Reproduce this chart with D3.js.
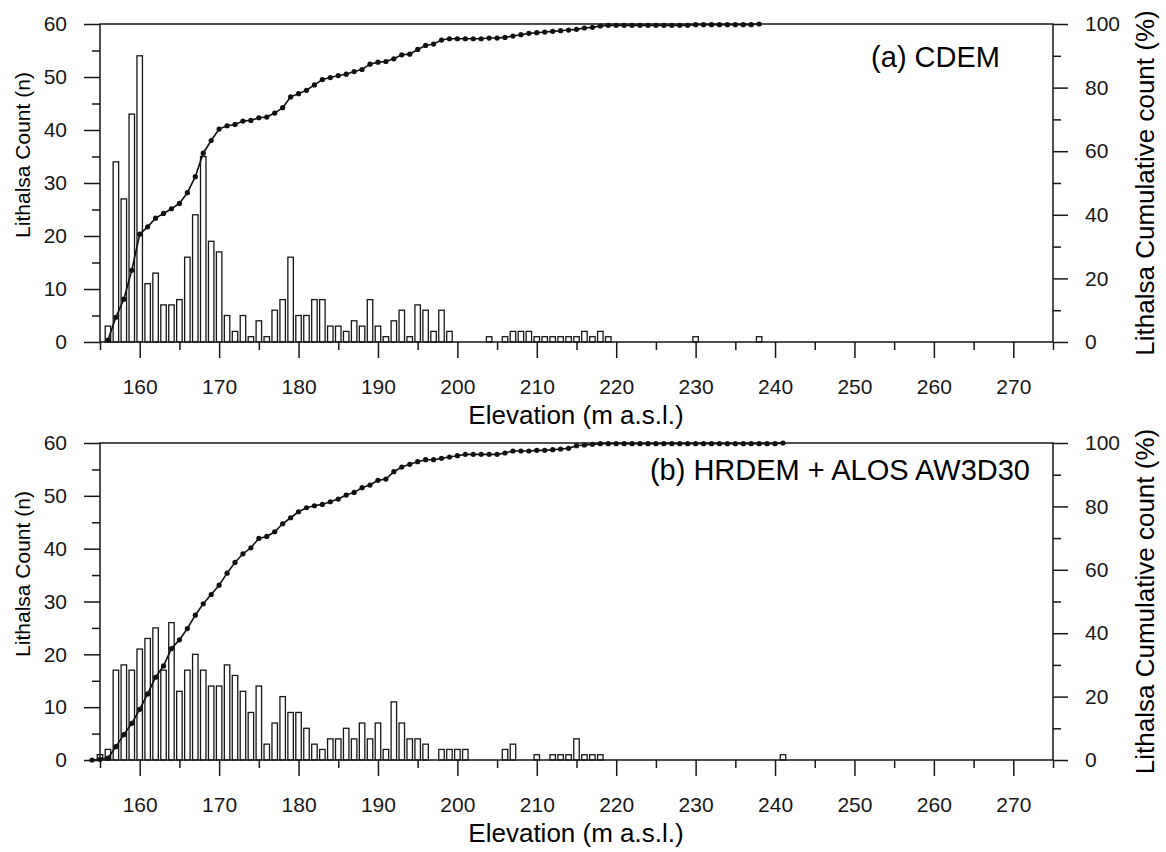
<!DOCTYPE html>
<html>
<head>
<meta charset="utf-8">
<title>Lithalsa elevation histograms</title>
<script src="https://cdn.jsdelivr.net/npm/d3@7"></script>
<style>
  html, body { margin: 0; padding: 0; background: #fff; }
  svg { display: block; font-family: "Liberation Sans", Arial, sans-serif; }
  .tick line, .frame { stroke: #161616; stroke-width: 1.5; }
  .tick text { fill: #161616; font-size: 21px; }
  .bar { fill: #fff; stroke: #161616; stroke-width: 1.3; }
  .cum { fill: none; stroke: #111; stroke-width: 1.6; }
  .dot { fill: #111; }
</style>
</head>
<body>
<svg width="1166" height="852"></svg>
<script>
(function() {
  'use strict';

  // Counts per 1 m elevation bin (first value = start elevation)
  var cdemStart = 156;
  var cdemCounts = [
    3, 34, 27, 43, 54, 11, 13, 7, 7, 8,        // 156-165
    16, 24, 35, 19, 17, 5, 2, 5, 1, 4,         // 166-175
    1, 6, 8, 16, 5, 5, 8, 8, 3, 3,             // 176-185
    2, 4, 3, 8, 3, 1, 4, 6, 1, 7,              // 186-195
    6, 2, 6, 2, 0, 0, 0, 0, 1, 0,              // 196-205
    1, 2, 2, 2, 1, 1, 1, 1, 1, 1,              // 206-215
    2, 1, 2, 1,                                // 216-219
    0, 0, 0, 0, 0, 0, 0, 0, 0, 0,              // 220-229
    1, 0, 0, 0, 0, 0, 0, 0, 1                  // 230-238
  ];

  var hrdemStart = 154;
  var hrdemCounts = [
    0, 1, 2, 17, 18, 17, 21, 23, 25, 17,       // 154-163
    26, 13, 17, 20, 17, 14, 14, 18, 16, 13,    // 164-173
    9, 14, 3, 7, 12, 9, 9, 6, 3, 2,            // 174-183
    4, 4, 6, 4, 7, 4, 7, 2, 11, 7,             // 184-193
    4, 4, 3, 0, 2, 2, 2, 2, 0, 0,              // 194-203
    0, 0, 2, 3, 0, 0, 1, 0, 1, 1,              // 204-213
    1, 4, 1, 1, 1,                             // 214-218
    0, 0, 0, 0, 0, 0, 0, 0, 0, 0, 0,           // 219-229
    0, 0, 0, 0, 0, 0, 0, 0, 0, 0, 0,           // 230-240
    1                                          // 241
  ];

  // Tick values
  var elevMajor = [160, 170, 180, 190, 200, 210, 220, 230, 240, 250, 260, 270];
  var elevMinor = [155, 165, 175, 185, 195, 205, 215, 225, 235, 245, 255, 265, 275];
  var countMajor = [0, 10, 20, 30, 40, 50, 60];
  var countMinor = [5, 15, 25, 35, 45, 55];
  var pctMajor = [0, 20, 40, 60, 80, 100];
  var pctMinor = [10, 30, 50, 70, 90];

  var panels = [
    {label: "(a) CDEM", start: cdemStart, counts: cdemCounts, top: 24, bottom: 342,
     labelX: 1000, labelY: 67, leftTitleY: 155},
    {label: "(b) HRDEM + ALOS AW3D30", start: hrdemStart, counts: hrdemCounts, top: 443, bottom: 760,
     labelX: 1030, labelY: 480, leftTitleY: 574}
  ];

  var svg = d3.select("svg"),
  left = 100, right = 1053;

  var x = d3.scaleLinear().domain([155, 275]).range([left, right]);
  var unit = x(156) - x(155);
  var barW = unit * 0.69;

  panels.forEach(drawPanel);

  function drawPanel(p) {
    var yCount = d3.scaleLinear().domain([0, 60]).range([p.bottom, p.top]);
    var yPct = d3.scaleLinear().domain([0, 100]).range([p.bottom, p.top]);
    var g = svg.append("g");

    //rows: elevation, count and cumulative percent
    var total = d3.sum(p.counts);
    var cum = d3.cumsum(p.counts);
    var rows = p.counts.map(function(c, i) {
      return {elev: p.start + i, count: c, pct: cum[i] / total * 100};
    });

    // bars (empty bins are not drawn)
    g.selectAll(".bar")
    .data(rows.filter(function(d) { return d.count > 0; }))
    .enter().append("rect")
    .attr("class", "bar")
    .attr("x", function(d) { return x(d.elev) - barW / 2; })
    .attr("y", function(d) { return yCount(d.count); })
    .attr("width", barW)
    .attr("height", function(d) { return yCount(0) - yCount(d.count); });

    // axes
    g.append("g")
    .attr("transform", "translate(" + left + ",0)")
    .call(d3.axisLeft(yCount).tickValues(countMajor).tickSize(16).tickPadding(17).tickSizeOuter(0))
    .call(cleanAxis);
    g.append("g")
    .attr("transform", "translate(" + left + ",0)")
    .call(d3.axisLeft(yCount).tickValues(countMinor).tickSize(8).tickFormat("").tickSizeOuter(0))
    .call(cleanAxis);

    g.append("g")
    .attr("transform", "translate(" + right + ",0)")
    .call(d3.axisRight(yPct).tickValues(pctMajor).tickSize(15).tickPadding(17).tickSizeOuter(0))
    .call(cleanAxis);
    g.append("g")
    .attr("transform", "translate(" + right + ",0)")
    .call(d3.axisRight(yPct).tickValues(pctMinor).tickSize(8).tickFormat("").tickSizeOuter(0))
    .call(cleanAxis);

    g.append("g")
    .attr("transform", "translate(0," + p.bottom + ")")
    .call(d3.axisBottom(x).tickValues(elevMajor).tickSize(16).tickPadding(21).tickSizeOuter(0))
    .call(cleanAxis);
    g.append("g")
    .attr("transform", "translate(0," + p.bottom + ")")
    .call(d3.axisBottom(x).tickValues(elevMinor).tickSize(8).tickFormat("").tickSizeOuter(0))
    .call(cleanAxis);

    // frame
    g.append("rect")
    .attr("class", "frame")
    .attr("x", left).attr("y", p.top)
    .attr("width", right - left).attr("height", p.bottom - p.top)
    .attr("fill", "none");

    // cumulative curve
    var line = d3.line()
    .x(function(d) { return x(d.elev); })
    .y(function(d) { return yPct(d.pct); });

    g.append("path")
    .datum(rows)
    .attr("class", "cum")
    .attr("d", line);

    g.selectAll(".dot")
    .data(rows)
    .enter().append("circle")
    .attr("class", "dot")
    .attr("cx", function(d) { return x(d.elev); })
    .attr("cy", function(d) { return yPct(d.pct); })
    .attr("r", 2.6);

    // titles
    g.append("text")
    .attr("transform", "translate(30," + p.leftTitleY + ") rotate(-90)")
    .attr("text-anchor", "middle")
    .style("font-size", "21px")
    .text("Lithalsa Count (n)");

    g.append("text")
    .attr("transform", "translate(1154," + ((p.top + p.bottom) / 2) + ") rotate(-90)")
    .attr("text-anchor", "middle")
    .style("font-size", "26px")
    .text("Lithalsa Cumulative count (%)");

    g.append("text")
    .attr("x", 576)
    .attr("y", p.bottom + 82)
    .attr("text-anchor", "middle")
    .style("font-size", "26px")
    .text("Elevation (m a.s.l.)");

    g.append("text")
    .attr("x", p.labelX)
    .attr("y", p.labelY)
    .attr("text-anchor", "end")
    .style("font-size", "29px")
    .text(p.label);
  }

  function cleanAxis(sel) {
    sel.attr("font-family", null).attr("font-size", null);
    sel.select(".domain").remove();
  }
})();
</script>
</body>
</html>
